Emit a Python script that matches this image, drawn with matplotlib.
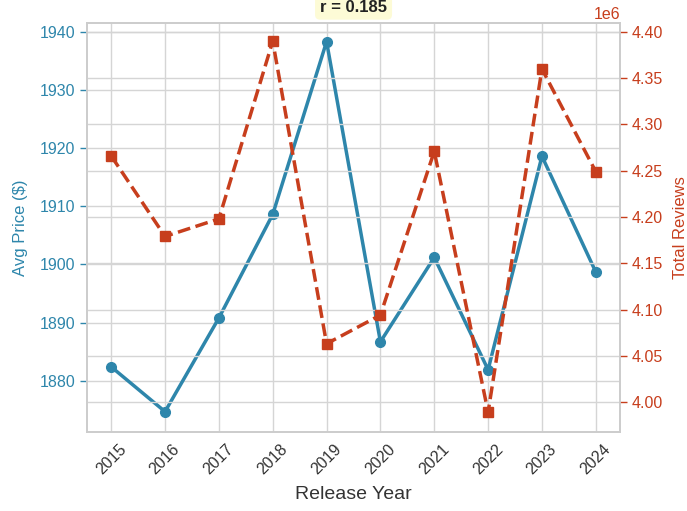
import matplotlib
matplotlib.use("Agg")
import matplotlib.pyplot as plt
import seaborn as sns

# values
years = [2015, 2016, 2017, 2018, 2019, 2020, 2021, 2022, 2023, 2024]
avg_price = [1882.4, 1874.7, 1890.8, 1908.6, 1938.3, 1886.7, 1901.2, 1881.9, 1918.6, 1898.7]
total_reviews = [4.266e6, 4.179e6, 4.198e6, 4.390e6, 4.063e6, 4.094e6, 4.271e6, 3.989e6, 4.360e6, 4.249e6]
r_value = 0.185

price_color = '#2E86AB'
reviews_color = '#C73E1D'

sns.set_style('whitegrid')
plt.rcParams['font.family'] = ['Liberation Sans', 'DejaVu Sans']

fig = plt.figure(figsize=(6.87, 5.11), dpi=100)
ax1 = fig.add_axes([0.1266, 0.1546, 0.7759, 0.8004])
ax2 = ax1.twinx()

ax1.plot(years, avg_price, color=price_color, marker='o', markersize=7,
         linewidth=2.5, label='Avg Price')
ax2.plot(years, total_reviews, color=reviews_color, marker='s', markersize=7,
         linewidth=2.5, linestyle='--', label='Total Reviews')

ax1.set_ylim(1871.2, 1941.5)
ax2.set_ylim(3.9676e6, 4.4097e6)
ax1.set_yticks([1880, 1890, 1900, 1910, 1920, 1930, 1940])
ax2.set_yticks([4.00e6, 4.05e6, 4.10e6, 4.15e6, 4.20e6, 4.25e6, 4.30e6, 4.35e6, 4.40e6])

ax1.set_xticks(years)
ax1.set_xticklabels([str(y) for y in years], rotation=45, fontsize=11.5)
ax1.set_xlabel('Release Year', fontsize=14, color='#333333', labelpad=6)
ax1.set_ylabel('Avg Price ($)', color=price_color, fontsize=12, labelpad=8)
ax2.set_ylabel('Total Reviews', color=reviews_color, fontsize=12, labelpad=7)

ax1.tick_params(axis='y', colors=price_color, labelsize=11.5, left=True,
                length=5, width=1)
ax2.tick_params(axis='y', colors=reviews_color, labelsize=11.5, right=True,
                length=5, width=1)
for tl in ax1.get_yticklines():
    tl.set_color('#333333')
for tl in ax2.get_yticklines():
    tl.set_color('#333333')
ax1.tick_params(axis='x', colors='#333333')
ax2.yaxis.get_offset_text().set_color(reviews_color)
ax2.yaxis.get_offset_text().set_fontsize(11.5)

for ax in (ax1, ax2):
    ax.grid(True, color='#d5d5d5', linewidth=1.0)
    for sp in ax.spines.values():
        sp.set_color('#cccccc')
        sp.set_linewidth(1.2)

fig.text(0.5146, 0.986, f'r = {r_value:.3f}', ha='center', va='center',
         fontsize=12, fontweight='bold', color='#222222',
         bbox=dict(boxstyle='round,pad=0.3', facecolor='#fdfbd6',
                   edgecolor='none'))

fig.savefig('out.png', dpi=100)
